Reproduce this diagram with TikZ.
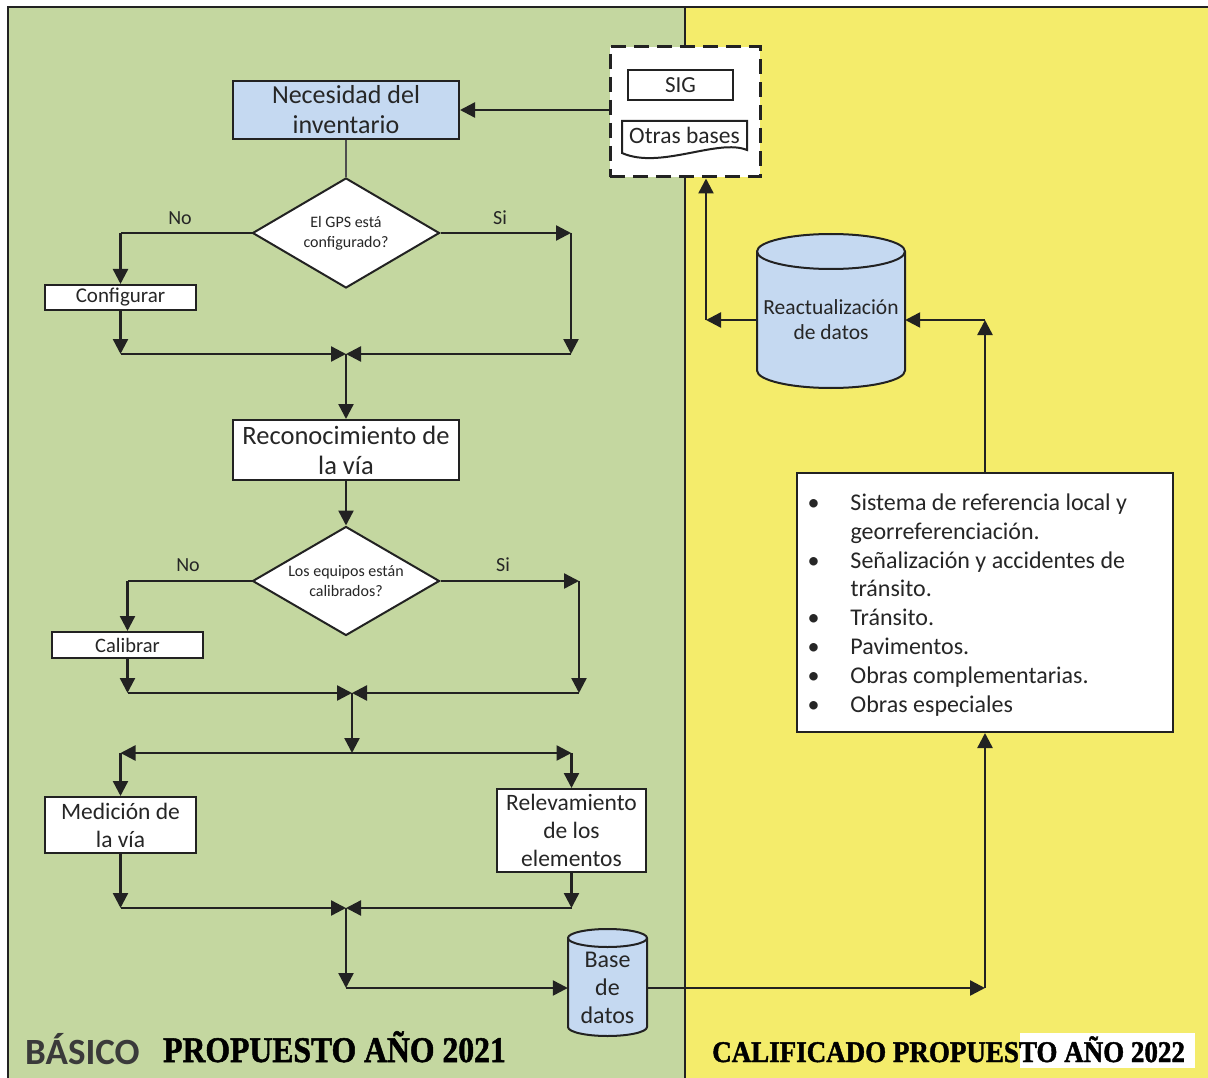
\documentclass[tikz,border=0pt]{standalone}
\usepackage{fontspec}
\usepackage{graphicx}
\setmainfont{Carlito}
\newfontfamily\stencil[FakeBold=1.5]{Liberation Serif Bold}
\usetikzlibrary{arrows.meta,shapes.geometric,calc}

\definecolor{panelgreen}{HTML}{C4D7A0}
\definecolor{panelyellow}{HTML}{F4EC6B}
\definecolor{boxblue}{HTML}{C5D9F1}
\definecolor{ink}{HTML}{222222}
\definecolor{textgray}{HTML}{262626}
\definecolor{basicgray}{HTML}{3A3A3A}

% drum-shaped data store: centre x, top, bottom, half width, end radius
\newcommand{\drum}[5]{%
  \filldraw[draw=ink, line width=2pt, fill=boxblue]
    (#1-#4,#2+#5) -- (#1-#4,#3-#5)
    arc[start angle=180, end angle=0, x radius=#4, y radius=#5]
    -- (#1+#4,#2+#5)
    arc[start angle=0, end angle=-180, x radius=#4, y radius=#5] -- cycle;
  \draw[draw=ink, line width=2pt] (#1-#4,#2+#5)
    arc[start angle=180, end angle=0, x radius=#4, y radius=#5];}

\begin{document}
\begin{tikzpicture}[x=1pt,y=-1pt,
  every node/.style={text=textgray, inner sep=0pt},
  link/.style={draw=ink, line width=2.4pt},
  flow/.style={link, -{Triangle[length=15pt,width=15pt]}},
  box/.style={draw=ink, line width=2pt, fill=white, align=center},
  decision/.style={draw=ink, line width=2pt, fill=white, diamond, aspect=1.7,
    align=center, font=\fontsize{16}{20}\selectfont},
  branch/.style={font=\fontsize{20}{24}\selectfont},
  store/.style={align=center},
  yeartag/.style={anchor=base west, text=black, font=\stencil}]

\useasboundingbox (0,0) rectangle (1208,1078);
\fill[white] (0,0) rectangle (1208,1078);

% two panels
\fill[panelgreen] (8,7) rectangle (685,1078);
\fill[panelyellow] (685,7) rectangle (1208,1078);
\draw[ink, line width=2.5pt] (8,1078) -- (8,7) -- (1208,7);
\draw[ink, line width=2.5pt] (685,7) -- (685,1078);

% ---------- left panel ----------
\node[box, fill=boxblue, minimum width=226pt, minimum height=58pt,
  font=\fontsize{26}{30}\selectfont] (nec) at (346,110) {Necesidad del\\inventario};
\node[decision, minimum width=187pt, minimum height=110pt] (d1) at (346,233)
  {El GPS está\\configurado?};
\node[box, minimum width=151pt, minimum height=25pt,
  font=\fontsize{21}{24}\selectfont] (conf) at (120.5,297.5) {Configurar};
\node[box, minimum width=226pt, minimum height=60pt,
  font=\fontsize{26.5}{30}\selectfont] (rec) at (346,450) {Reconocimiento de\\la vía};
\node[decision, minimum width=187pt, minimum height=109pt] (d2) at (346,581)
  {Los equipos están\\calibrados?};
\node[box, minimum width=151pt, minimum height=26pt,
  font=\fontsize{20.5}{24}\selectfont] (cal) at (127.5,645) {Calibrar};
\node[box, minimum width=151pt, minimum height=56pt,
  font=\fontsize{23.5}{28}\selectfont] (med) at (120.5,825) {Medición de\\la vía};
\node[box, minimum width=149pt, minimum height=83pt,
  font=\fontsize{23.5}{28}\selectfont] (rel) at (571.5,830.5) {Relevamiento\\de los\\elementos};

\drum{607.5}{929}{1036}{39.5}{9}
\node[store, minimum width=79pt, minimum height=94pt,
  font=\fontsize{24}{28}\selectfont] (base) at (607.5,988) {Base\\de\\datos};

% ---------- right panel ----------
\node[draw=ink, line width=3pt, dash pattern=on 15pt off 8pt, fill=white,
  minimum width=150pt, minimum height=130pt] (ext) at (685,112) {};
\node[box, minimum width=105pt, minimum height=30pt,
  font=\fontsize{23}{26}\selectfont] (sig) at (680.5,85) {SIG};
\node[minimum width=125pt, minimum height=34pt] (otr) at (684.5,138) {};
\filldraw[draw=ink, line width=2pt, fill=white]
  (622,121) -- (747,121) -- (747,150)
  .. controls (718,138) and (660,170) .. (622,153) -- cycle;
\node[font=\fontsize{23.5}{26}\selectfont] at (684.5,135.5) {Otras bases};

\drum{831}{234}{388}{74}{17.5}
\node[store, minimum width=148pt, minimum height=100pt,
  font=\fontsize{21.5}{25}\selectfont] (reac) at (831,320) {Reactualización\\de datos};

\node[draw=ink, line width=2pt, fill=white, minimum width=376pt, minimum height=259pt,
  font=\fontsize{24}{28.8}\selectfont] (bul) at (985,602.5) {%
  \raisebox{-3pt}[\height][\depth]{%
  \begin{tabular}{@{}p{43pt}@{}p{312pt}@{}}
  \textbullet & Sistema de referencia local y\\
              & georreferenciación.\\
  \textbullet & Señalización y accidentes de\\
              & tránsito.\\
  \textbullet & Tránsito.\\
  \textbullet & Pavimentos.\\
  \textbullet & Obras complementarias.\\
  \textbullet & Obras especiales
  \end{tabular}}};

% ---------- junctions ----------
\coordinate (m1) at (346,354);
\coordinate (gpsno) at (conf.north |- d1.west);
\coordinate (gpsnoend) at (conf.south |- m1);
\coordinate (gpsyes) at (571,233);
\coordinate (gpsyesend) at (571,354);
\coordinate (m2) at (352,693);
\coordinate (calno) at (cal.north |- d2.west);
\coordinate (calnoend) at (cal.south |- m2);
\coordinate (calyes) at (579,581);
\coordinate (calyesend) at (579,693);
\coordinate (split) at (352,753);
\coordinate (splitL) at (med.north |- split);
\coordinate (splitR) at (rel.north |- split);
\coordinate (m3) at (346,908);
\coordinate (medend) at (med.south |- m3);
\coordinate (relend) at (rel.south |- m3);
\coordinate (dbin) at (m3 |- base.west);
\coordinate (dbout) at (bul.south |- base.east);
\coordinate (upd) at (bul.north |- reac.east);
\coordinate (back) at (706,320);

% ---------- connectors ----------
\draw[ink!80, line width=1.2pt] (nec.south) -- (d1.north);

\draw[link] (d1.west) -- (gpsno);
\draw[flow] (gpsno) -- (conf.north);
\draw[flow] (conf.south) -- (gpsnoend);
\draw[flow] (gpsnoend) -- (m1);
\draw[flow] (d1.east) -- (gpsyes);
\draw[flow] (gpsyes) -- (gpsyesend);
\draw[flow] (gpsyesend) -- (m1);
\draw[flow] (m1) -- (rec.north);
\node[branch] at (180,218) {No};
\node[branch] at (500,218) {Si};

\draw[flow] (rec.south) -- (d2.north);
\draw[link] (d2.west) -- (calno);
\draw[flow] (calno) -- (cal.north);
\draw[flow] (cal.south) -- (calnoend);
\draw[flow] (calnoend) -- (m2);
\draw[flow] (d2.east) -- (calyes);
\draw[flow] (calyes) -- (calyesend);
\draw[flow] (calyesend) -- (m2);
\node[branch] at (188,565) {No};
\node[branch] at (503,565) {Si};

\draw[flow] (m2) -- (split);
\draw[flow] (split) -- (splitL);
\draw[flow] (splitL) -- (med.north);
\draw[flow] (split) -- (splitR);
\draw[flow] (splitR) -- (rel.north);

\draw[flow] (med.south) -- (medend);
\draw[flow] (medend) -- (m3);
\draw[flow] (rel.south) -- (relend);
\draw[flow] (relend) -- (m3);
\draw[flow] (m3) -- (dbin);
\draw[flow] (dbin) -- (base.west);

\draw[flow] (base.east) -- (dbout);
\draw[flow] (dbout) -- (bul.south);
\draw[flow] (bul.north) -- (upd);
\draw[flow] (upd) -- (reac.east);
\draw[flow] (reac.west) -- (back);
\draw[flow] (back) -- (back |- ext.south);
\draw[flow] (ext.west |- nec.east) -- (nec.east);

% ---------- panel captions ----------
\node[anchor=base west, text=basicgray, font=\fontsize{37}{40}\selectfont\bfseries]
  (lvlb) at (25,1064) {BÁSICO};
\node[yeartag, font=\stencil\fontsize{36}{40}\selectfont] (yr1) at (163,1062)
  {\scalebox{0.88}[1]{PROPUESTO AÑO 2021}};
\fill[white] (1020,1033) rectangle (1195,1068);
\node[yeartag, font=\stencil\fontsize{30}{34}\selectfont] (yr2) at (712,1062)
  {\scalebox{0.9}[1]{CALIFICADO PROPUESTO AÑO 2022}};
\end{tikzpicture}
\end{document}
